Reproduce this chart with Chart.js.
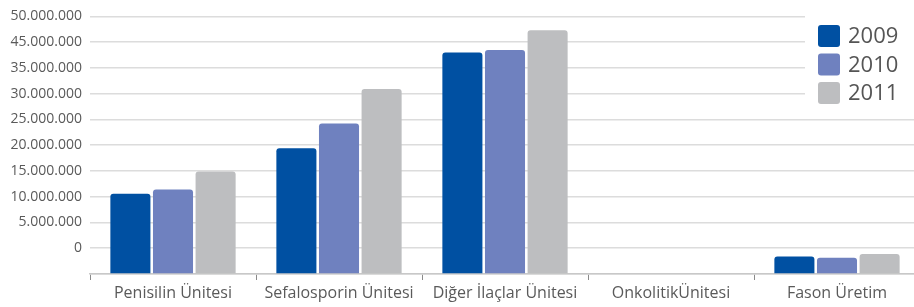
<!DOCTYPE html>
<html>
<head>
<meta charset="utf-8">
<script src="https://cdn.jsdelivr.net/npm/chart.js@4/dist/chart.umd.min.js"></script>
<style>
  html, body { margin: 0; padding: 0; background: #fff; overflow: hidden; }
  #wrap { width: 920px; height: 307px; }
</style>
</head>
<body>
<div id="wrap"><canvas id="chart" width="920" height="307"></canvas></div>
<script>
// categories and series
const categories = ["Penisilin Ünitesi", "Sefalosporin Ünitesi", "Diğer İlaçlar Ünitesi", "OnkolitikÜnitesi", "Fason Üretim"];
const years = ["2009", "2010", "2011"];
const values2009 = [10600000, 19400000, 38000000, null, -1600000];
const values2010 = [11400000, 24200000, 38500000, null, -1850000];
const values2011 = [14900000, 30900000, 42300000, null, -1100000];

// tick labels as printed on the picture (one per gridline, bottom up; 40.000.000 is missing there)
const yTickLabels = ["", "0", "5.000.000", "10.000.000", "15.000.000", "20.000.000", "25.000.000", "30.000.000", "35.000.000", "45.000.000", "50.000.000"];
const yMin = -5000000;
const yMax = 45000000;
const yStep = 5000000;

const colors = ["#0050a2", "#6f81bf", "#bdbec0"];
const FONT = "'Open Sans', 'Noto Sans', sans-serif";
const TEXT = "#5a5a5a";

function makeSet(i, data) {
    return {
        label: years[i],
        data: data,
        backgroundColor: colors[i],
        base: yMin,
        borderRadius: { topLeft: 3, topRight: 3 },
        borderSkipped: "bottom",
        categoryPercentage: 0.77,
        barPercentage: 0.94
    };
}

// legend box drawn on top of the plot, with white background
const boxLegend = {
    id: "boxLegend",
    afterDatasetsDraw(chart) {
        const ctx = chart.ctx;
        ctx.save();
        ctx.fillStyle = "#fff";
        ctx.fillRect(805, 16, 115, 100);
        chart.data.datasets.forEach((ds, i) => {
            const y = 25 + i * 28.5;
            ctx.fillStyle = ds.backgroundColor;
            ctx.beginPath();
            ctx.roundRect(818, y, 22, 22, 3);
            ctx.fill();
            ctx.fillStyle = "#555";
            ctx.font = "22px " + FONT;
            ctx.textBaseline = "middle";
            ctx.fillText(ds.label, 848, y + 12);
        });
        ctx.restore();
    }
};

const ctx = document.getElementById("chart").getContext("2d");

new Chart(ctx, {
    type: "bar",
    data: {
        labels: categories,
        datasets: [
            makeSet(0, values2009),
            makeSet(1, values2010),
            makeSet(2, values2011)
        ]
    },
    options: {
        responsive: false,
        animation: false,
        layout: { padding: { top: 14, right: 0, left: 0, bottom: 0 } },
        plugins: {
            legend: { display: false },
            tooltip: { enabled: false }
        },
        scales: {
            x: {
                grid: {
                    offset: true,
                    drawOnChartArea: false,
                    drawTicks: true,
                    tickLength: 6,
                    color: "#8a8a8a"
                },
                border: { display: true, color: "#c8c8c8", width: 1.5 },
                ticks: {
                    color: TEXT,
                    font: { family: FONT, size: 16 },
                    padding: 4,
                    maxRotation: 0,
                    autoSkip: false
                },
                afterFit(scale) { scale.height = 33; }
            },
            y: {
                min: yMin,
                max: yMax,
                grid: {
                    color: "#dcdcdc",
                    lineWidth: 1.5,
                    drawTicks: false
                },
                border: { display: false },
                ticks: {
                    stepSize: yStep,
                    color: TEXT,
                    font: { family: FONT, size: 14 },
                    padding: 8,
                    callback: (v) => yTickLabels[Math.round((v - yMin) / yStep)]
                },
                afterFit(scale) { scale.width = 90; }
            }
        }
    },
    plugins: [boxLegend]
});
</script>
</body>
</html>
